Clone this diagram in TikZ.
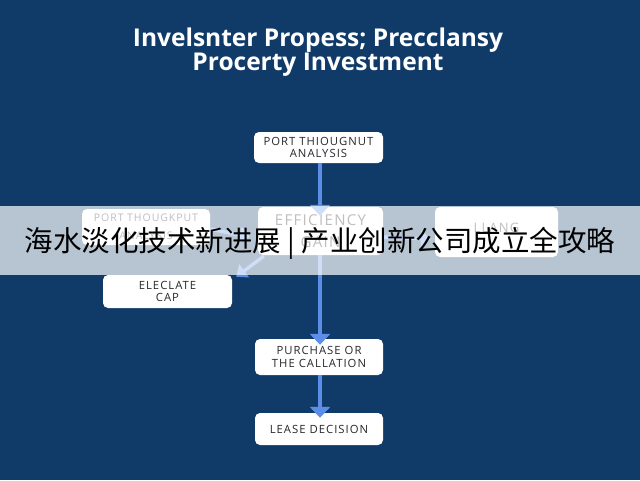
\documentclass[tikz,border=0pt]{standalone}
\usepackage{fontspec}
\setmainfont{Open Sans}
\newfontfamily\cjkfont{Noto Sans CJK SC}
\newfontfamily\boxfont[LetterSpace=9]{Open Sans}
\newfontfamily\titlefont{Open Sans}
\usetikzlibrary{arrows.meta}
\definecolor{navybg}{RGB}{16,58,104}
\definecolor{arrowblue}{RGB}{92,142,232}
\definecolor{boxtext}{RGB}{40,40,45}
\begin{document}
\begin{tikzpicture}[x=1pt,y=-1pt,
  box/.style={fill=white, rounded corners=5pt, align=center, inner sep=0pt,
    font=\boxfont\fontsize{11.3}{12.5}\selectfont, text=boxtext},
  flow/.style={draw=arrowblue, line width=4pt, -{Triangle[width=20pt,length=11pt]}},
  thinflow/.style={draw=arrowblue, line width=3.5pt, -{Triangle[width=16pt,length=10pt]}}]
\fill[navybg] (0,0) rectangle (640,480);
\useasboundingbox (0,0) rectangle (640,480);

\node[text=white, align=center, font=\titlefont\bfseries\fontsize{24.5}{22}\selectfont] (title) at (318,52)
  {Invelsnter Propess; Precclansy\\Procerty Investment};

\node[box, minimum width=129pt, minimum height=31pt] (b1) at (318.5,147.5) {PORT THIOUGNUT\\ANALYSIS};
\node[box, minimum width=128pt, minimum height=36pt, font=\boxfont\fontsize{10.5}{14}\selectfont] (bl) at (146,227) {\raisebox{4pt}{PORT THOUGKPUT}\\ANALYSIS};
\node[box, minimum width=125pt, minimum height=48pt, font=\boxfont\fontsize{15}{20}\selectfont] (bc) at (320.5,231) {\raisebox{2pt}{EFFICIENCY}\\GAIN};
\node[box, minimum width=123pt, minimum height=50pt, font=\boxfont\fontsize{13}{15}\selectfont] (br) at (496.5,232) {\raisebox{9pt}{LLANG}};
\node[box, minimum width=129pt, minimum height=33pt] (be) at (167.5,291.5) {ELECLATE\\CAP};
\node[box, minimum width=128pt, minimum height=36pt] (bp) at (319,357) {PURCHASE OR\\THE CALLATION};
\node[box, minimum width=128pt, minimum height=32pt] (bd) at (319,429) {LEASE DECISION};

\coordinate (c1) at (320,163);
\coordinate (c2) at (320,255);
\coordinate (c3) at (320,375);
\draw[flow] (c1) -- ([yshift=-9pt]bc.north -| c1);
\draw[flow] (c2) -- ([yshift=-6pt]bp.north -| c2);
\draw[flow] (c3) -- ([yshift=-5pt]bd.north -| c3);
\draw[thinflow] ([yshift=-2pt]bl.east) -- ([xshift=-8pt,yshift=-6pt]bc.west);
\draw[thinflow] ([yshift=-6pt]bc.east) -- ([xshift=-4pt,yshift=-7pt]br.west);
\draw[thinflow] ([xshift=6pt,yshift=-1pt]bc.south west) -- ([xshift=4pt,yshift=-2pt]be.north east);

\fill[white, opacity=0.7] (0,206) rectangle (640,275);
\node[text=black, font=\cjkfont\fontsize{28.5}{30}\selectfont] (banner) at (320,243)
  {海水淡化技术新进展 | 产业创新公司成立全攻略};
\end{tikzpicture}
\end{document}
